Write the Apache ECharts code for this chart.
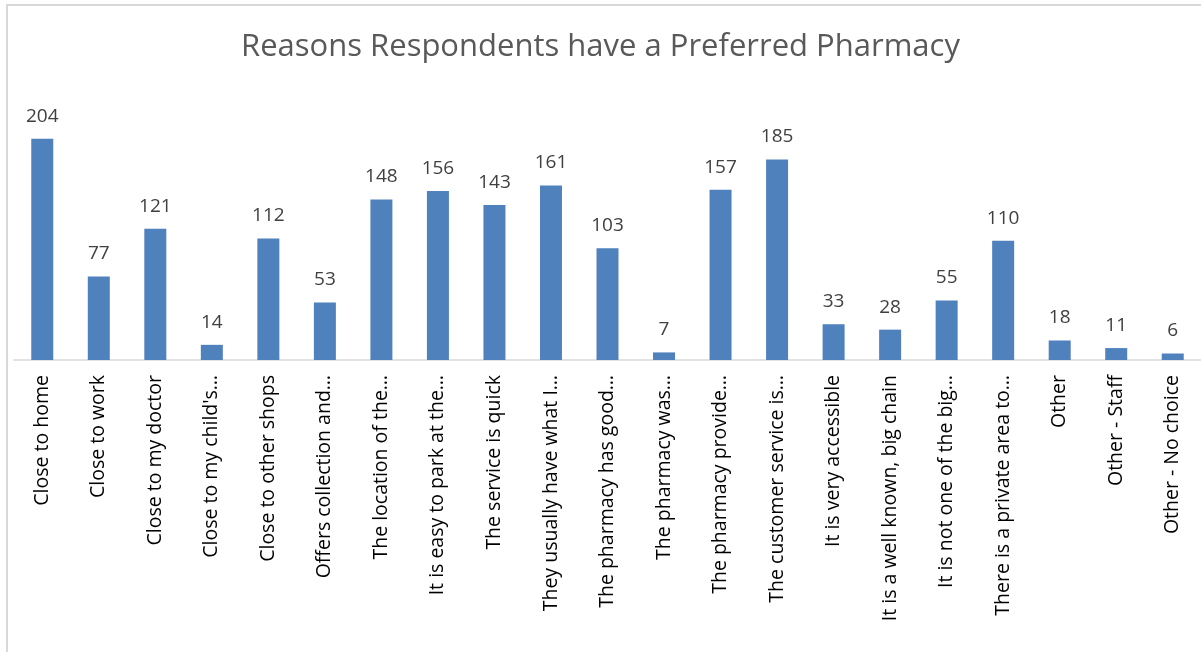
<!DOCTYPE html>
<html>
<head>
<meta charset="utf-8">
<script src="https://cdn.jsdelivr.net/npm/echarts@6/dist/echarts.min.js"></script>
<style>
html,body{margin:0;padding:0;background:#fff;}
#frame{position:absolute;left:6px;top:4px;width:1200px;height:660px;border:2px solid #d9d9d9;box-sizing:border-box;}
#chart{position:absolute;left:0;top:0;width:1201px;height:652px;}
</style>
</head>
<body>
<div id="frame"></div>
<div id="chart"></div>
<script>
const title = "Reasons Respondents have a Preferred Pharmacy";
const categories = [
  "Close to home",
  "Close to work",
  "Close to my doctor",
  "Close to my child's…",
  "Close to other shops",
  "Offers collection and…",
  "The location of the…",
  "It is easy to park at the…",
  "The service is quick",
  "They usually have what I…",
  "The pharmacy has good…",
  "The pharmacy was…",
  "The pharmacy provide…",
  "The customer service is…",
  "It is very accessible",
  "It is a well known, big chain",
  "It is not one of the big…",
  "There is a private area to…",
  "Other",
  "Other - Staff",
  "Other - No choice"
];
const values = [204, 77, 121, 14, 112, 53, 148, 156, 143, 161, 103, 7, 157, 185, 33, 28, 55, 110, 18, 11, 6];

const chart = echarts.init(document.getElementById('chart'));
chart.setOption({
  animation: false,
  backgroundColor: 'transparent',
  title: {
    text: title,
    left: 'center',
    top: 27,
    textStyle: {fontFamily: 'Open Sans', fontSize: 31, fontWeight: 'normal', color: '#595959'}
  },
  grid: {left: 14, right: 0, top: 89, height: 271, containLabel: false},
  xAxis: {
    type: 'category',
    data: categories,
    axisLine: {lineStyle: {color: '#d9d9d9', width: 1.5}},
    axisTick: {show: false},
    axisLabel: {
      rotate: 90,
      interval: 0,
      margin: 15,
      fontFamily: 'Open Sans',
      fontSize: 19.5,
      color: '#000000'
    }
  },
  yAxis: {
    type: 'value',
    min: 0,
    max: 250,
    show: false
  },
  series: [{
    type: 'bar',
    data: values,
    barWidth: 22,
    itemStyle: {color: '#4F81BD'},
    label: {
      show: true,
      position: 'top',
      distance: 13,
      fontFamily: 'Open Sans',
      fontSize: 19,
      color: '#404040'
    }
  }]
});
</script>
</body>
</html>
